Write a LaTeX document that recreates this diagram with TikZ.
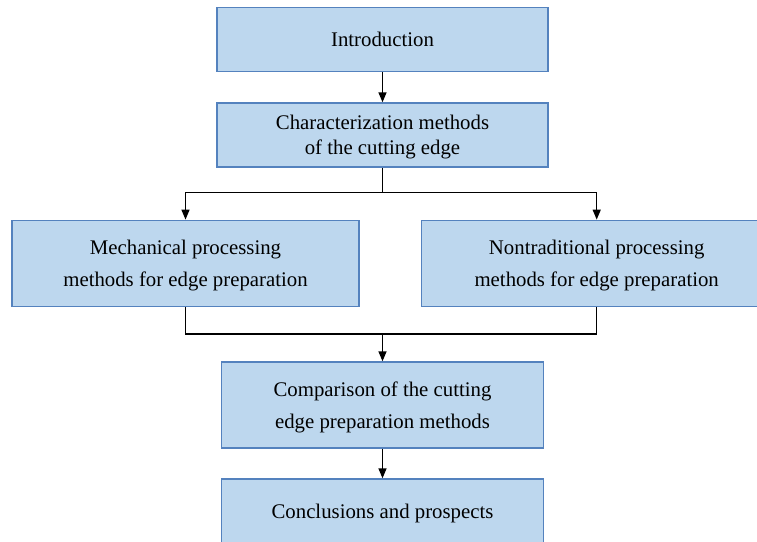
\documentclass[tikz,border=0pt]{standalone}
\usepackage{fontspec}
\setmainfont{Liberation Serif}
\usetikzlibrary{arrows.meta}
\definecolor{boxfill}{RGB}{189,215,238}
\definecolor{boxline}{RGB}{84,130,190}
\tikzset{
  secbox/.style={draw=boxline,fill=boxfill,line width=1.4pt,align=center,inner sep=0pt,
    text depth=0pt,font=\fontsize{20.8}{31.5}\selectfont},
  flow/.style={line width=1.4pt,-{Triangle[width=8pt,length=10pt]}}
}
\begin{document}
\begin{tikzpicture}[x=1pt,y=-1pt]
\pgfmathsetmacro{\kmid}{382.5}
\pgfmathsetmacro{\kw}{331}
\clip(0,0)rectangle(757,541);
\node[secbox,minimum width=\kw pt,minimum height=64pt](intro)at(\kmid,39.5){Introduction};
\node[secbox,minimum width=\kw pt,minimum height=64pt,font=\fontsize{20.8}{25}\selectfont](charac)at(\kmid,135){Characterization methods\\of the cutting edge};
\node[secbox,minimum width=347pt,minimum height=86pt](mech)at(185.5,263.3){Mechanical processing\\methods for edge preparation};
\node[secbox,minimum width=350pt,minimum height=86pt](nontrad)at(596.7,263.3){Nontraditional processing\\methods for edge preparation};
\node[secbox,minimum width=322pt,minimum height=86pt](comp)at(\kmid,405){Comparison of the cutting\\edge preparation methods};
\node[secbox,minimum width=322pt,minimum height=64pt](concl)at(\kmid,511){Conclusions and prospects};
\coordinate(split)at(\kmid,192.3);
\coordinate(merge)at(\kmid,334);
\draw[flow](intro)--(charac);
\draw[line width=1.4pt](charac.south)--(split);
\draw[flow](split)-|(mech.north);
\draw[flow](split)-|(nontrad.north);
\draw[line width=1.4pt](mech.south)|-(merge);
\draw[line width=1.4pt](nontrad.south)|-(merge);
\draw[flow](merge)--(comp.north);
\draw[flow](comp)--(concl);
\end{tikzpicture}
\end{document}
